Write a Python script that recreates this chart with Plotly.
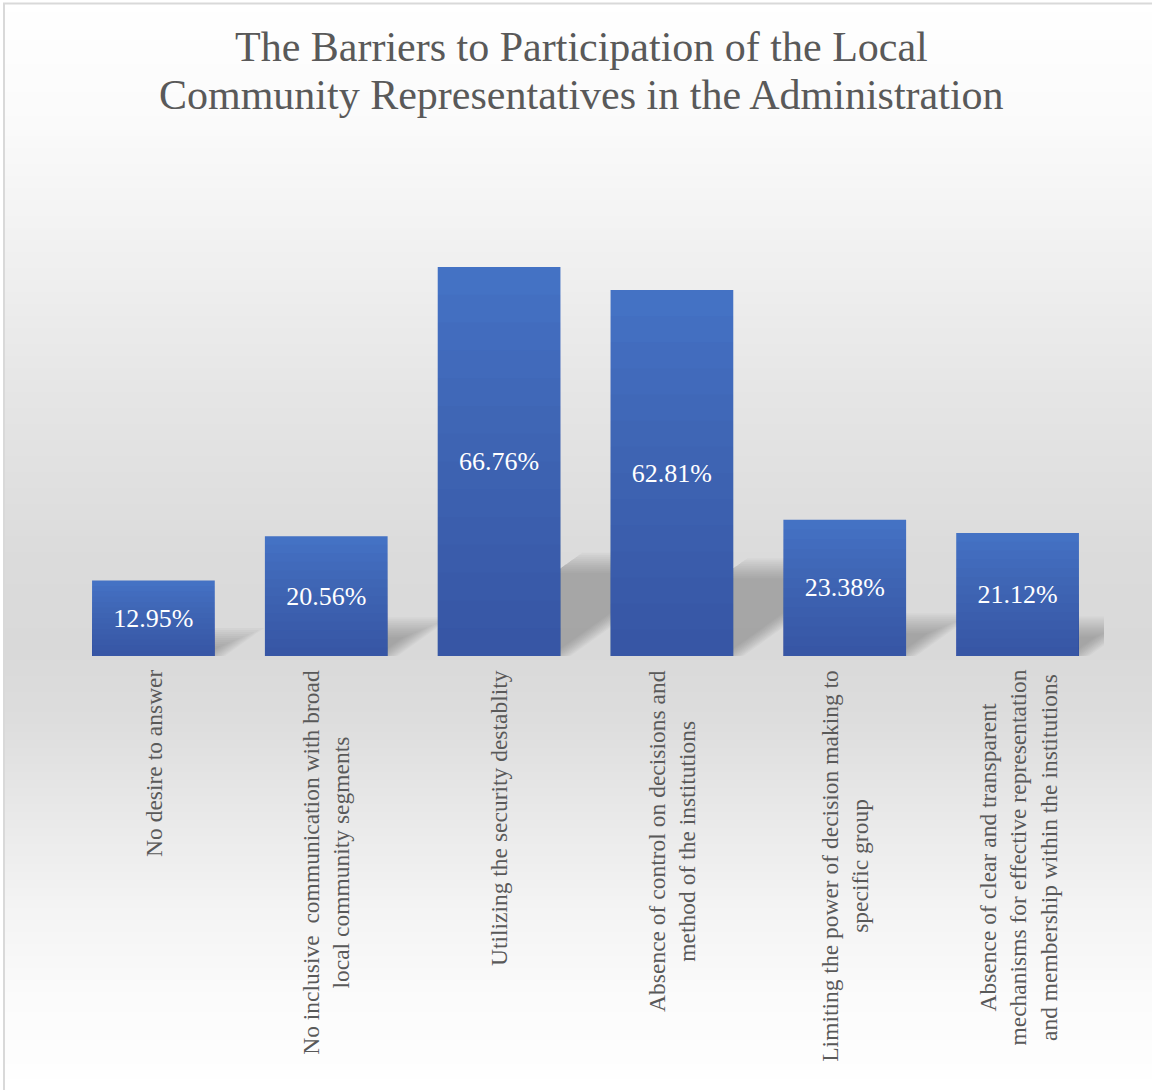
import plotly.graph_objects as go

# ---- data -------------------------------------------------------------
categories = [
    "No desire to answer",
    "No inclusive  communication with broad<br>local community segments",
    "Utilizing the security destablity",
    "Absence of control on decisions and<br>method of the institutions",
    "Limiting the power of decision making to<br>specific group",
    "Absence of clear and transparent<br>mechanisms for effective representation<br>and membership within the institutions",
]
percentages = [12.95, 20.56, 66.76, 62.81, 23.38, 21.12]

title_lines = ["The Barriers to Participation of the Local",
               "Community Representatives in the Administration"]

# ---- layout geometry (pixels) -----------------------------------------
W, H = 1152, 1090
PLOT_LEFT, PLOT_RIGHT = 67, 1104
PLOT_BOTTOM = 656
Y_MAX = 70.0
PX_PER_UNIT_Y = 5.827
PLOT_TOP = PLOT_BOTTOM - Y_MAX * PX_PER_UNIT_Y
PX_PER_UNIT_X = (PLOT_RIGHT - PLOT_LEFT) / len(categories)
BAR_WIDTH = 0.71

SERIF = "Liberation Serif, Times New Roman, serif"
TEXT_GREY = "#595959"
BAR_BLUE = "#4472C4"

x_pos = list(range(len(categories)))


def py(y_px):
    """pixel row -> paper fraction"""
    return 1 - y_px / H


def px(x_px):
    return x_px / W


fig = go.Figure()

# main bars
fig.add_trace(go.Bar(
    x=x_pos, y=percentages, width=BAR_WIDTH,
    marker=dict(color=BAR_BLUE, line=dict(width=0)),
    hoverinfo="skip", showlegend=False,
))

# darker shading towards the bottom of each bar (vertical gradient)
N_SHADE = 14
for k in range(1, N_SHADE):
    fig.add_trace(go.Bar(
        x=x_pos, y=[v * k / N_SHADE for v in percentages], width=BAR_WIDTH,
        marker=dict(color="rgba(20,45,100,0.027)", line=dict(width=0)),
        hoverinfo="skip", showlegend=False,
    ))

# value labels
fig.add_trace(go.Bar(
    x=x_pos, y=percentages, width=BAR_WIDTH,
    marker=dict(color="rgba(0,0,0,0)", line=dict(width=0)),
    texttemplate="%{y:.2f}%", textposition="inside", insidetextanchor="middle",
    textangle=0, textfont=dict(family=SERIF, size=26, color="white"),
    hoverinfo="skip", showlegend=False,
))

shapes = []

# background: soft vertical grey gradient
stops = [(0, 255), (130, 250), (260, 240), (400, 229), (560, 219), (650, 217),
         (720, 221), (800, 231), (900, 243), (1000, 251), (1078, 254)]


def grey_at(y):
    for (y0, g0), (y1, g1) in zip(stops, stops[1:]):
        if y0 <= y <= y1:
            return g0 + (g1 - g0) * (y - y0) / (y1 - y0)
    return stops[-1][1]


STEP = 4
y = 4
while y < 1078:
    g = round(grey_at(y + STEP / 2))
    shapes.append(dict(
        type="rect", xref="paper", yref="paper", layer="below",
        x0=px(4), x1=px(W + 10), y0=py(y), y1=py(min(y + STEP, 1078) + 0.5),
        line=dict(width=0), fillcolor=f"rgb({g},{g},{g})",
    ))
    y += STEP

# chart border
shapes.append(dict(type="line", xref="paper", yref="paper", layer="below",
                   x0=px(4), x1=px(4), y0=py(3), y1=py(H + 5),
                   line=dict(color="#d9d9d9", width=2)))
shapes.append(dict(type="line", xref="paper", yref="paper", layer="below",
                   x0=px(3), x1=px(W + 5), y0=py(3.5), y1=py(3.5),
                   line=dict(color="#d9d9d9", width=2)))

# soft cast shadows thrown back and to the right of each bar
blur_steps = list(range(10, -11, -2))
for i, v in enumerate(percentages):
    s = 0.24 * v                                  # shadow height (data units)
    throw = s * PX_PER_UNIT_Y * 1.4 / PX_PER_UNIT_X  # horizontal throw (x units)
    for e in blur_steps:
        ex = e / PX_PER_UNIT_X
        ey = e / PX_PER_UNIT_Y
        top = max(s + ey, 0.2)
        xa = i - BAR_WIDTH / 2
        xb = i + BAR_WIDTH / 2 + ex
        xc = i + BAR_WIDTH / 2 + throw * top / s + ex
        xd = i - BAR_WIDTH / 2 + throw * top / s
        path = f"M {xa},0 L {xb},0 L {xc},{top} L {xd},{top} Z"
        shapes.append(dict(type="path", xref="x", yref="y", layer="below",
                           path=path, line=dict(width=0),
                           fillcolor="rgba(90,90,90,0.042)"))

annotations = []

# two-line chart title
for line, yc in zip(title_lines, [47, 95]):
    annotations.append(dict(
        x=px(581), y=py(yc), xref="paper", yref="paper",
        text=line, showarrow=False, xanchor="center", yanchor="middle",
        font=dict(family=SERIF, size=42, color=TEXT_GREY),
    ))

# category labels, rotated
for i, c in enumerate(categories):
    annotations.append(dict(
        x=i, y=py(668), xref="x", yref="paper",
        text=c, textangle=-90, showarrow=False,
        xanchor="center", yanchor="top", align="center",
        font=dict(family=SERIF, size=23.5, color=TEXT_GREY),
    ))

fig.update_layout(
    width=W, height=H,
    margin=dict(l=0, r=0, t=0, b=0),
    paper_bgcolor="white",
    plot_bgcolor="rgba(0,0,0,0)",
    barmode="overlay",
    showlegend=False,
    xaxis=dict(domain=[px(PLOT_LEFT), px(PLOT_RIGHT)],
               range=[-0.5, len(categories) - 0.5],
               showticklabels=False, showgrid=False, zeroline=False,
               showline=False, ticks=""),
    yaxis=dict(domain=[py(PLOT_BOTTOM), py(PLOT_TOP)],
               range=[0, Y_MAX], visible=False, showgrid=False,
               zeroline=False),
    shapes=shapes,
    annotations=annotations,
)

fig.write_html("out.html")
